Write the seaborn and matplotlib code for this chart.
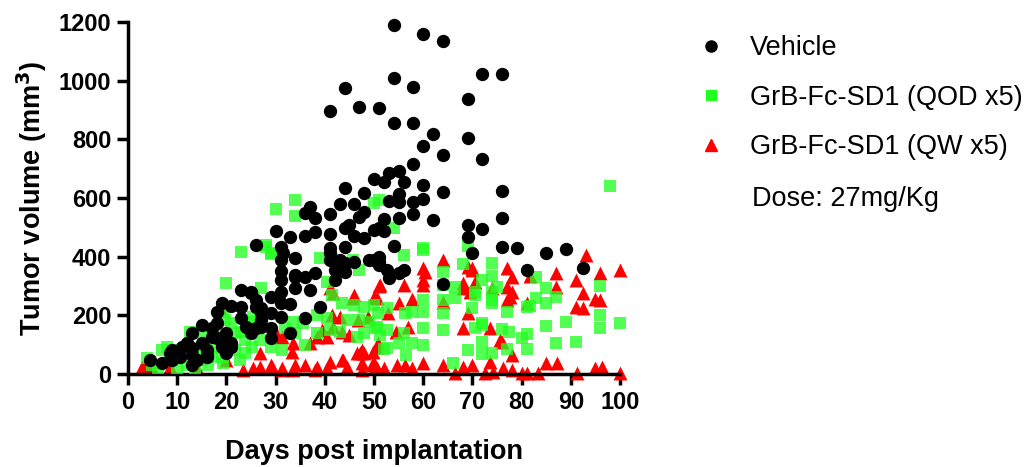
import numpy as np
import pandas as pd
import matplotlib
matplotlib.use("Agg")
import matplotlib.pyplot as plt
import seaborn as sns
from matplotlib.lines import Line2D

# ============================
# DATA
# ============================

vehicle_day = [54, 60, 64, 72, 76, 54, 58, 44, 69, 51, 47, 41, 54, 58, 62, 60, 64, 69, 72, 58,
               76, 53, 55, 50, 52, 56, 60, 64, 55, 53, 55, 58, 60, 44, 48, 37, 43, 46, 58, 62,
               52, 55, 51, 52, 69, 72, 69, 76, 54, 36, 38, 48, 47, 41, 30, 33, 36, 38, 41, 44,
               45, 46, 48, 50, 26, 31, 41, 44, 51, 34, 31, 31, 34, 36, 38, 31, 34, 37, 41, 41,
               43, 46, 49, 42, 44, 42, 51, 31, 33, 36, 39, 31, 33, 29, 26, 23, 25, 19, 21, 18,
               15, 23, 26, 27, 27, 26, 29, 29, 23, 24, 17, 13, 17, 18, 20, 18, 19, 19, 21, 21,
               11, 12, 8.5, 7, 4.5, 13, 13, 14, 16, 16, 13, 10.6, 9, 16, 20, 15, 9, 70, 76, 79,
               85, 89, 92.5, 81, 64, 51, 52.6, 53, 55, 56, 25, 31.5, 34, 27, 29, 25, 27, 44, 50, 31]
vehicle_vol = [1190, 1159, 1135, 1023, 1023, 1009, 979, 975, 938, 907, 910, 897, 856, 856, 818, 777, 747, 805, 733, 716,
               624, 685, 692, 665, 655, 655, 644, 620, 614, 590, 587, 587, 597, 634, 617, 569, 580, 580, 546, 525,
               528, 532, 498, 488, 508, 494, 467, 532, 436, 549, 532, 552, 535, 546, 488, 467, 470, 484, 477, 498,
               508, 470, 464, 491, 440, 433, 430, 433, 399, 395, 389, 351, 331, 331, 344, 320, 293, 286, 389, 412,
               389, 382, 389, 355, 348, 320, 372, 242, 239, 191, 228, 194, 140, 263, 252, 286, 276, 242, 232, 211,
               167, 228, 228, 208, 184, 157, 208, 157, 191, 160, 126, 140, 157, 174, 140, 123, 92, 109, 92, 106,
               92, 106, 72, 38, 48, 89, 65, 48, 82, 58, 31, 58, 48, 65, 72, 106, 82, 412, 433, 430,
               412, 426, 361, 354, 307, 382, 355, 327, 344, 355, 280, 412, 338, 225, 123, 140, 160, 378, 389, 280]

qod_day = [34, 30, 98, 50, 34, 28, 54, 60, 69, 23, 28, 29, 20, 27, 39, 47, 51, 56, 60, 68,
           64, 74, 74, 72, 75, 83, 85, 87, 83, 96, 66.5, 64, 70.5, 60, 70, 64, 77, 74, 81, 64,
           60, 70.5, 72, 76, 77.4, 80, 81, 85, 89, 96, 96, 100, 87, 91, 60, 57.7, 55, 52, 56.5, 69,
           72, 72, 74, 77, 81, 66, 50.6, 56, 64, 85, 81.7, 74, 74, 70.5, 66.5, 60, 57.7, 56.3, 52.6, 52.6,
           52.6, 72, 50.8, 50.2, 51.2, 29, 45.7, 40.4, 41.5, 43.5, 46, 48, 50, 44.5, 47, 49, 38.4, 40.4,
           35.6, 33.5, 34, 36, 29, 31.3, 26.8, 25.4, 41, 43, 48, 46.5, 32, 38.4, 3.9, 4.9, 6, 8,
           8.5, 10, 12, 13.6, 15, 16.3, 17.3, 17, 19, 19.3, 21, 19.7, 21.7, 22.8, 23.8, 25.2, 25.4, 24.8,
           23.8, 19.3, 19.7, 17.7, 15, 12.6, 14.6, 9, 7, 15.7, 23, 21.7, 21, 12.2]
qod_vol = [593, 563, 641, 583, 539, 440, 498, 430, 436, 416, 433, 409, 310, 293, 395, 355, 593, 406, 423, 375,
           348, 378, 334, 320, 297, 331, 293, 263, 259, 300, 297, 303, 269, 252, 225, 208, 211, 252, 228, 150,
           157, 157, 167, 153, 143, 123, 136, 164, 177, 201, 157, 174, 106, 109, 99, 106, 106, 85, 65, 82,
           109, 68, 72, 85, 85, 38, 160, 140, 252, 242, 232, 280, 242, 280, 259, 211, 211, 208, 225, 150,
           89, 174, 208, 157, 133, 412, 389, 314, 269, 242, 235, 228, 235, 184, 184, 177, 201, 191,
           174, 177, 140, 99, 92, 82, 116, 194, 150, 143, 140, 126, 157, 140, 55, 31, 20, 92,
           72, 20, 31, 20, 48, 31, 89, 58, 58, 38, 106, 116, 82, 48, 72, 92, 177, 157,
           116, 211, 184, 150, 140, 143, 72, 82, 82, 92, 143, 140, 174, 99]

qw_day = [64, 60, 60, 60, 51, 56, 50.6, 55, 57.7, 64, 68, 69, 70, 69.5, 70.5, 74, 77, 78, 77, 77.6,
          77, 81.7, 87, 87, 91, 92.5, 91, 92.5, 93, 96, 95, 96, 100, 81, 69, 68, 73.6, 76, 78, 57,
          50.6, 54.5, 60.4, 51.2, 68, 70, 52.8, 50.8, 78, 75.6, 41.7, 46, 50, 41.5, 39.4, 37, 33.5, 40.4, 43.5, 45,
          47.6, 47.2, 49.8, 48.8, 46.7, 43, 26.8, 31.3, 41, 45.7, 30.3, 33.3, 41.7, 38.4, 18.7, 20,
          50, 52, 54.7, 56.3, 57.7, 60, 64, 66.5, 68, 70, 72.5, 73.6, 74.2, 76.2, 78, 80, 81, 83.3, 85, 87.2,
          91.3, 95, 96.3, 100, 26.8, 29.3, 31.3, 33.9, 36, 38.4, 41, 43.5, 44.5, 47.6, 49.6, 50.2,
          2.8, 4.9, 8.5, 14, 23.4, 25.4, 29, 31.3, 33.5, 38, 40.4, 43.7, 46.5, 48, 47.6, 50.6, 3.5]
qw_vol = [389, 361, 320, 303, 300, 303, 259, 242, 256, 245, 293, 365, 361, 280, 314, 293, 361, 331, 297, 263,
          252, 334, 344, 297, 320, 276, 228, 225, 406, 344, 256, 252, 355, 242, 208, 157, 157, 109, 65, 160,
          92, 143, 348, 303, 310, 355, 208, 106, 280, 116, 276, 269, 263, 201, 150, 106, 106, 126, 143, 133,
          82, 72, 75, 194, 184, 194, 72, 126, 293, 259, 133, 75, 160, 126, 225, 48,
          38, 20, 31, 31, 20, 38, 31, 3, 24, 31, 3, 41, 7, 20, 14, 3, 3, 3, 38, 38,
          3, 20, 24, 3, 24, 24, 20, 31, 31, 24, 41, 48, 24, 38, 31, 20,
          24, 20, 24, 20, 14, 20, 31, 14, 14, 14, 20, 48, 72, 72, 14, 20, 31]

groups = ["Vehicle", "GrB-Fc-SD1 (QOD x5)", "GrB-Fc-SD1 (QW x5)"]

df = pd.concat([
    pd.DataFrame({"day": vehicle_day, "volume": vehicle_vol, "group": groups[0]}),
    pd.DataFrame({"day": qod_day, "volume": qod_vol, "group": groups[1]}),
    pd.DataFrame({"day": qw_day, "volume": qw_vol, "group": groups[2]}),
])

# ============================
# PLOT
# ============================

sns.set_theme(style="ticks", rc={"text.color": "black", "axes.labelcolor": "black",
                                 "xtick.color": "black", "ytick.color": "black",
                                 "axes.edgecolor": "black"})
plt.rcParams["font.family"] = ["Liberation Sans", "DejaVu Sans"]

fig = plt.figure(figsize=(10.3, 4.67), dpi=100)
ax = fig.add_axes([0.1243, 0.199, 0.4777, 0.754])

styles = {
    groups[2]: dict(marker="^", color="#ff0000", s=100, alpha=1.0, z=2),
    groups[1]: dict(marker="s", color="#22ff22", s=68, alpha=0.78, z=3),
    groups[0]: dict(marker="o", color="#000000", s=92, alpha=1.0, z=4),
}

# red first, then green, black on top
for g in [groups[2], groups[1], groups[0]]:
    st = styles[g]
    sns.scatterplot(
        data=df[df["group"] == g], x="day", y="volume", ax=ax,
        marker=st["marker"], color=st["color"], s=st["s"], alpha=st["alpha"],
        linewidth=0, zorder=st["z"], clip_on=False, legend=False,
    )

ax.set_xlim(0, 100)
ax.set_ylim(0, 1200)
ax.set_xticks(range(0, 101, 10))
ax.set_yticks(range(0, 1201, 200))
sns.despine(ax=ax)
for sp in ["left", "bottom"]:
    ax.spines[sp].set_linewidth(2.5)
ax.tick_params(axis="both", width=2.5, length=8, labelsize=17, pad=4)
for lbl in ax.get_xticklabels() + ax.get_yticklabels():
    lbl.set_fontweight("bold")

ax.set_xlabel("Days post implantation", fontsize=19.5, fontweight="bold", labelpad=18)
ax.set_ylabel("Tumor volume (mm$^\\mathbf{3}$)", fontsize=19.5, fontweight="bold", labelpad=7)

# legend (outside, right)
handles = [
    Line2D([], [], marker="o", color="#000000", linestyle="", markersize=8),
    Line2D([], [], marker="s", color="#22ff22", linestyle="", markersize=7),
    Line2D([], [], marker="^", color="#ff0000", linestyle="", markersize=8),
]
fig.legend(handles, groups, loc="upper left", bbox_to_anchor=(0.653, 0.977),
           frameon=False, fontsize=19.5, handletextpad=0.95, labelspacing=0.87,
           handlelength=1.0)
fig.text(0.730, 0.574, "Dose: 27mg/Kg", fontsize=19.5, ha="left", va="center")

fig.savefig("out.png", dpi=100)
